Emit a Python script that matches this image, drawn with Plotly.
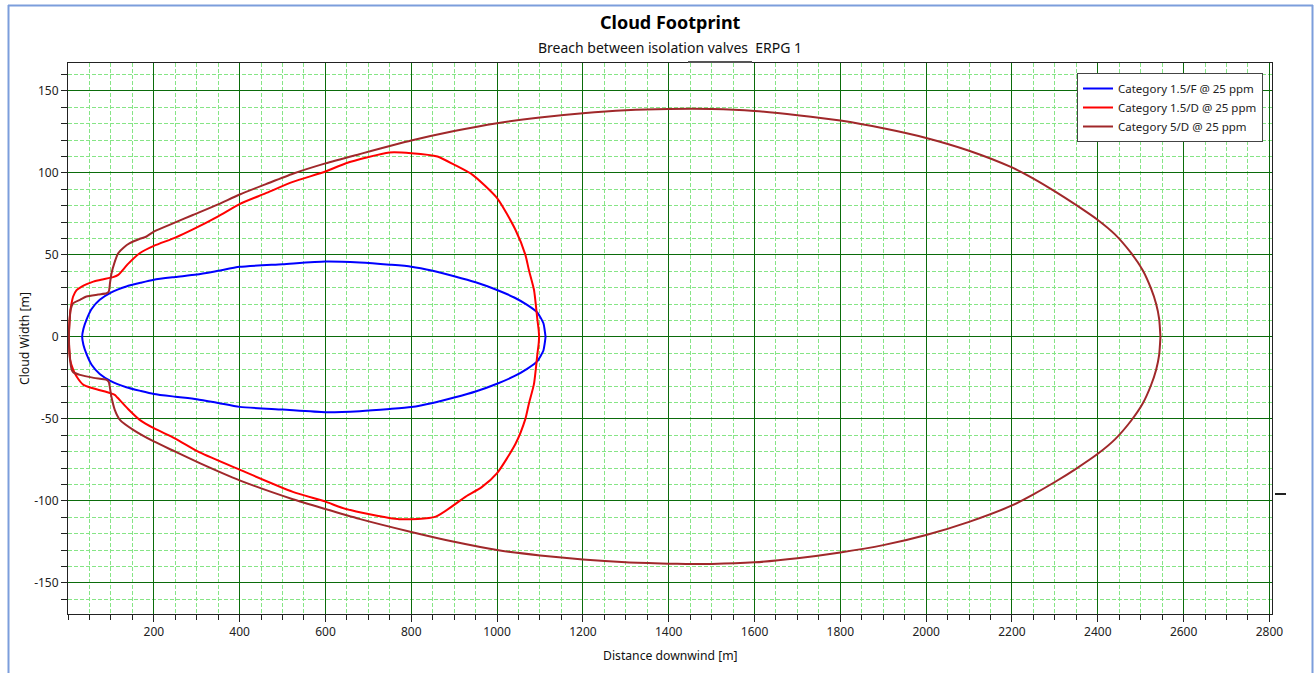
import plotly.graph_objects as go

# ---------------- data ----------------
# Category 1.5/F @ 25 ppm (blue)
f15_x_upper = [33, 36, 43, 55, 74, 100, 136, 170, 200, 250, 300, 350, 400, 500, 600, 680, 750, 800, 850, 900, 950, 1000, 1040, 1070, 1094, 1108, 1111, 1113]
f15_y_upper = [0, 5, 10.4, 17, 22.6, 27, 30.7, 33, 34.8, 36.5, 38, 40.3, 42.7, 44.3, 45.9, 45.3, 44, 42.8, 40.3, 37, 33.3, 28.6, 24, 19.5, 14.8, 8.3, 4, 0]
f15_x_lower = [1113, 1111, 1108, 1094, 1070, 1040, 1000, 950, 900, 850, 800, 750, 680, 600, 500, 400, 350, 300, 250, 200, 170, 136, 100, 74, 55, 43, 36, 33]
f15_y_lower = [0, -4, -8.3, -14.8, -19.5, -24, -28.6, -33.3, -37, -40.3, -42.8, -44, -45.3, -45.9, -44.3, -42.7, -40.3, -38, -36.5, -34.8, -33, -30.7, -27, -22.6, -17, -10.4, -5, 0]

# Category 1.5/D @ 25 ppm (red)
d15_x_upper = [2, 3, 5, 8, 12, 20, 32, 45, 59, 80, 105, 117, 140, 167, 200, 250, 291, 350, 400, 460, 524, 600, 648, 749, 800, 861, 900, 943, 1000, 1043, 1066, 1074, 1086, 1094, 1097, 1098]
d15_y_upper = [0, 8, 14.6, 20, 24.6, 28.5, 30.7, 32.3, 33.7, 35, 36.4, 37.8, 44.5, 51, 55.5, 60.5, 65.5, 73.5, 81, 87.5, 94.5, 100.8, 105.9, 112.4, 112, 110, 105, 98.8, 84.6, 65.2, 50, 40.9, 28.7, 10.4, 4, 0]
d15_x_lower = [1098, 1097, 1094, 1086, 1074, 1066, 1043, 1000, 965, 927, 857, 772, 648, 600, 524, 400, 307, 250, 200, 167, 140, 115, 109, 98, 60, 36, 20, 12, 5, 3, 2]
d15_y_lower = [0, -4, -10.4, -28.7, -40.9, -50, -65.2, -83.1, -91.5, -97.4, -109.6, -111.2, -105, -100.5, -94.5, -81, -70.5, -62, -55.7, -50.6, -44, -37, -35.4, -34.3, -31.5, -29.3, -24.2, -20, -14, -8, 0]

# Category 5/D @ 25 ppm (brown)
d5_x_upper = [2, 4, 6, 12, 28, 43, 70, 90, 95, 98, 101.5, 108, 117, 130, 144, 165, 183, 200, 250, 291, 350, 400, 460, 524, 600, 679, 800, 900, 1000, 1100, 1200, 1300, 1400, 1500, 1600, 1700, 1800, 1900, 2000, 2100, 2200, 2250, 2300, 2350, 2400, 2440, 2478, 2505, 2524, 2536, 2543, 2546]
d5_y_upper = [0, 10, 16.5, 20.5, 22.6, 24.6, 25.8, 26.6, 27.6, 33, 38.8, 45, 51, 54.5, 57.1, 59.5, 61.2, 64.2, 69.8, 74.3, 80.8, 86.8, 93, 99.5, 105.8, 111.4, 119.7, 125.5, 130.3, 133.8, 136.4, 138.2, 139, 139, 137.8, 135.2, 131.9, 127.2, 121.3, 113.5, 103.3, 96.5, 88.7, 80.3, 71.3, 62.5, 51, 40.5, 29.5, 20, 11, 0]
d5_x_lower = [2546, 2543, 2536, 2524, 2505, 2478, 2440, 2400, 2350, 2300, 2250, 2200, 2100, 2000, 1900, 1800, 1700, 1600, 1500, 1440, 1400, 1300, 1200, 1100, 1000, 900, 800, 679, 600, 524, 400, 307, 250, 200, 152, 121, 109, 101, 95, 90, 60, 28, 12, 8.6, 5, 2]
d5_y_lower = [0, -11, -20, -29.5, -40.5, -51, -62.5, -71.3, -80.3, -88.5, -96, -102.8, -112.8, -120.8, -127, -131.5, -135, -137.5, -138.5, -138.5, -138.3, -137.5, -135.8, -133.3, -130, -125, -119, -111, -105, -99, -87.5, -77, -70, -63.8, -56.7, -50.6, -44.5, -36.4, -27.5, -26.2, -25, -23.2, -21.5, -20, -14, 0]

series_names = ["Category 1.5/F @ 25 ppm", "Category 1.5/D @ 25 ppm", "Category 5/D @ 25 ppm"]
series_colors = ["#0000FF", "#FF0000", "#A0282A"]

x_tickvals = [200, 400, 600, 800, 1000, 1200, 1400, 1600, 1800, 2000, 2200, 2400, 2600, 2800]
x_ticktext = ["200", "400", "600", "800", "1000", "1200", "1400", "1600", "1800", "2000", "2200", "2400", "2600", "2800"]
y_tickvals = [-150, -100, -50, 0, 50, 100, 150]
y_ticktext = ["-150", "-100", "-50", "0", "50", "100", "150"]

# ---------------- figure ----------------
FONT = "Noto Sans"
fig = go.Figure()

all_x = [f15_x_upper + f15_x_lower, d15_x_upper + d15_x_lower, d5_x_upper + d5_x_lower]
all_y = [f15_y_upper + f15_y_lower, d15_y_upper + d15_y_lower, d5_y_upper + d5_y_lower]

for xs, ys, name, col in zip(all_x, all_y, series_names, series_colors):
    fig.add_trace(go.Scatter(x=xs, y=ys, mode="lines", name=name,
                             line=dict(color=col, width=2, shape="spline", smoothing=0.6)))

L, R, T, B = 68, 1272, 63, 614
W, H = 1315, 673

def px2paper_x(px):
    return (px - L) / (R - L)

def px2paper_y(py):
    return (B - py) / (B - T)

major_grid = "#0B6B0B"
minor_grid = "#86E586"

fig.update_xaxes(
    range=[0, 2806],
    tickmode="array", tickvals=x_tickvals, ticktext=x_ticktext,
    showgrid=True, gridcolor=major_grid, gridwidth=1,
    ticks="outside", ticklen=7, tickcolor="#222", tickwidth=1,
    showline=True, linecolor="#222", linewidth=1, mirror=True,
    zeroline=False,
    tickfont=dict(family=FONT, size=12, color="#222"),
    minor=dict(tickmode="linear", tick0=0, dtick=50, ticks="outside", ticklen=5,
               tickcolor="#222", showgrid=True, gridcolor=minor_grid,
               griddash="4px,2px", gridwidth=1),
)
fig.update_yaxes(
    range=[-169, 167],
    tickmode="array", tickvals=y_tickvals, ticktext=y_ticktext,
    showgrid=True, gridcolor=major_grid, gridwidth=1,
    ticks="outside", ticklen=6, tickcolor="#222", tickwidth=1,
    showline=True, linecolor="#222", linewidth=1, mirror=True,
    zeroline=False,
    tickfont=dict(family=FONT, size=12, color="#222"),
    minor=dict(tickmode="linear", tick0=0, dtick=10, ticks="outside", ticklen=6,
               tickcolor="#222", showgrid=True, gridcolor=minor_grid,
               griddash="4px,2px", gridwidth=1),
)

annotations = [
    dict(text="<b>Cloud Footprint</b>", x=0.5, y=px2paper_y(22), xref="paper", yref="paper",
         showarrow=False, font=dict(family=FONT, size=18, color="#000"), xanchor="center", yanchor="middle"),
    dict(text="Breach between isolation valves  ERPG 1", x=0.5, y=px2paper_y(47), xref="paper", yref="paper",
         showarrow=False, font=dict(family=FONT, size=14, color="#111"), xanchor="center", yanchor="middle"),
    dict(text="Distance downwind [m]", x=0.5, y=px2paper_y(655), xref="paper", yref="paper",
         showarrow=False, font=dict(family=FONT, size=12.2, color="#111"), xanchor="center", yanchor="middle"),
    dict(text="Cloud Width [m]", x=px2paper_x(24), y=px2paper_y(338), xref="paper", yref="paper",
         showarrow=False, textangle=-90, font=dict(family=FONT, size=12.2, color="#111"),
         xanchor="center", yanchor="middle"),
]

frame_col = "#7C9EDC"
shapes = [
    # outer window frame
    dict(type="line", xref="paper", yref="paper", x0=px2paper_x(8.5), x1=px2paper_x(8.5),
         y0=px2paper_y(5), y1=px2paper_y(680), line=dict(color=frame_col, width=2)),
    dict(type="line", xref="paper", yref="paper", x0=px2paper_x(8), x1=px2paper_x(1313),
         y0=px2paper_y(5.5), y1=px2paper_y(5.5), line=dict(color=frame_col, width=2)),
    dict(type="line", xref="paper", yref="paper", x0=px2paper_x(1312.5), x1=px2paper_x(1312.5),
         y0=px2paper_y(5), y1=px2paper_y(680), line=dict(color=frame_col, width=2)),
    # small artefacts in the reference
    dict(type="line", xref="paper", yref="paper", x0=px2paper_x(688), x1=px2paper_x(752),
         y0=px2paper_y(62), y1=px2paper_y(62), line=dict(color="#555", width=2)),
    dict(type="line", xref="paper", yref="paper", x0=px2paper_x(1275), x1=px2paper_x(1286),
         y0=px2paper_y(494), y1=px2paper_y(494), line=dict(color="#222", width=2)),
]

fig.update_layout(
    width=W, height=H,
    margin=dict(l=L, r=W - R, t=T, b=H - B),
    paper_bgcolor="white", plot_bgcolor="white",
    font=dict(family=FONT, size=12, color="#222"),
    showlegend=True,
    legend=dict(x=px2paper_x(1077), y=px2paper_y(73), xanchor="left", yanchor="top",
                bgcolor="white", bordercolor="#444", borderwidth=1,
                font=dict(family=FONT, size=11.5, color="#222"),
                tracegroupgap=0, itemwidth=30),
    annotations=annotations,
    shapes=shapes,
)

fig.write_html("out.html")
